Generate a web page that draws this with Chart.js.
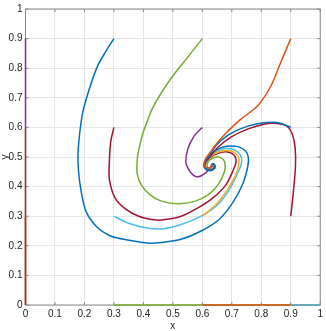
<!DOCTYPE html>
<html>
<head>
<meta charset="utf-8">
<script src="https://cdn.jsdelivr.net/npm/chart.js@4.4.0/dist/chart.umd.min.js"></script>
<style>
html, body { margin: 0; padding: 0; background: #fff; }
canvas { display: block; }
</style>
</head>
<body>
<canvas id="phase" width="326" height="331"></canvas>
<script>
// trajectories, [x, y] pairs, in plotting order
var run01 = [[0, 0]]
var run02 = [[0, 0.3], [0, 0]]
var run03 = [[0, 0.6], [0, 0]]
var run04 = [[0, 0.9], [0, 0]]
var run05 = [[0.3, 0], [1, 0]]
var run06 = [[0.3, 0.3], [0.35, 0.276], [0.407, 0.261], [0.461, 0.257], [0.528, 0.272], [0.596, 0.3],
  [0.652, 0.339], [0.691, 0.389], [0.719, 0.444], [0.731, 0.472], [0.733, 0.497], [0.722, 0.515],
  [0.7, 0.527], [0.675, 0.528], [0.65, 0.52], [0.628, 0.505], [0.613, 0.487], [0.608, 0.469],
  [0.617, 0.457], [0.632, 0.456], [0.642, 0.465], [0.64, 0.476], [0.632, 0.474]]
var run07 = [[0.3, 0.6], [0.289, 0.55], [0.284, 0.472], [0.285, 0.422], [0.304, 0.361], [0.34, 0.324],
  [0.384, 0.3], [0.429, 0.289], [0.461, 0.287], [0.528, 0.3], [0.585, 0.328], [0.635, 0.361],
  [0.68, 0.406], [0.705, 0.456], [0.714, 0.48], [0.712, 0.5], [0.7, 0.512], [0.68, 0.518],
  [0.655, 0.513], [0.632, 0.502], [0.615, 0.487], [0.609, 0.47], [0.616, 0.459], [0.629, 0.458],
  [0.639, 0.465], [0.638, 0.475], [0.632, 0.474]]
var run08 = [[0.3, 0.9], [0.272, 0.856], [0.244, 0.806], [0.216, 0.728], [0.194, 0.65], [0.183, 0.572],
  [0.178, 0.506], [0.18, 0.45], [0.189, 0.383], [0.205, 0.317], [0.239, 0.267], [0.289, 0.233],
  [0.351, 0.219], [0.418, 0.209], [0.461, 0.211], [0.528, 0.222], [0.596, 0.25], [0.657, 0.289],
  [0.702, 0.344], [0.736, 0.406], [0.754, 0.467], [0.756, 0.5], [0.745, 0.522], [0.72, 0.535],
  [0.69, 0.537], [0.66, 0.53], [0.635, 0.515], [0.615, 0.495], [0.605, 0.475], [0.61, 0.46],
  [0.624, 0.454], [0.638, 0.458], [0.644, 0.468], [0.638, 0.477], [0.632, 0.474]]
var run09 = [[0.6, 0], [1, 0]]
var run10 = [[0.6, 0.3], [0.646, 0.339], [0.685, 0.389], [0.713, 0.439], [0.724, 0.475], [0.723, 0.5],
  [0.71, 0.515], [0.69, 0.522], [0.665, 0.52], [0.64, 0.51], [0.62, 0.494], [0.61, 0.476],
  [0.615, 0.462], [0.628, 0.457], [0.64, 0.463], [0.641, 0.473], [0.632, 0.474]]
var run11 = [[0.6, 0.6], [0.573, 0.572], [0.551, 0.528], [0.544, 0.483], [0.552, 0.461], [0.569, 0.439],
  [0.586, 0.433], [0.608, 0.444], [0.625, 0.461], [0.632, 0.474]]
var run12 = [[0.6, 0.9], [0.552, 0.839], [0.507, 0.783], [0.468, 0.728], [0.429, 0.661], [0.412, 0.617],
  [0.399, 0.583], [0.388, 0.54], [0.38, 0.5], [0.379, 0.444], [0.393, 0.406], [0.423, 0.372],
  [0.461, 0.351], [0.518, 0.342], [0.574, 0.35], [0.619, 0.372], [0.653, 0.406], [0.675, 0.45],
  [0.676, 0.483], [0.662, 0.498], [0.64, 0.498], [0.622, 0.487], [0.616, 0.472], [0.622, 0.461],
  [0.634, 0.459], [0.641, 0.468], [0.632, 0.474]]
var run13 = [[0.9, 0], [1, 0]]
var run14 = [[0.9, 0.3], [0.909, 0.383], [0.916, 0.467], [0.915, 0.53], [0.906, 0.575], [0.888, 0.603],
  [0.854, 0.613], [0.809, 0.611], [0.753, 0.594], [0.697, 0.567], [0.653, 0.533], [0.625, 0.5],
  [0.61, 0.48], [0.611, 0.462], [0.624, 0.455], [0.638, 0.46], [0.642, 0.47], [0.635, 0.477],
  [0.632, 0.474]]
var run15 = [[0.9, 0.6], [0.865, 0.614], [0.832, 0.617], [0.787, 0.612], [0.731, 0.596], [0.686, 0.573],
  [0.647, 0.539], [0.625, 0.506], [0.61, 0.483], [0.61, 0.464], [0.622, 0.455], [0.637, 0.459],
  [0.643, 0.469], [0.636, 0.477], [0.632, 0.474]]
var run16 = [[0.9, 0.9], [0.865, 0.817], [0.832, 0.739], [0.787, 0.672], [0.731, 0.628], [0.7, 0.6],
  [0.675, 0.575], [0.65, 0.547], [0.63, 0.52], [0.615, 0.5], [0.607, 0.485], [0.607, 0.47],
  [0.619, 0.463], [0.634, 0.468], [0.632, 0.474]]

var tickLabels = ["0", "0.1", "0.2", "0.3", "0.4", "0.5", "0.6", "0.7", "0.8", "0.9", "1"]
var lineColors = ["#0072BD", "#D95319", "#EDB120", "#7E2F8E", "#77AC30", "#4DBEEE", "#A2142F"]

main()

function main() {
  var runs = [run01, run02, run03, run04, run05, run06, run07, run08,
    run09, run10, run11, run12, run13, run14, run15, run16]
  var fontFamily = "'Liberation Sans', Arial, sans-serif"

  var datasets = runs.map(function (run, i) {
    return {
      data: run.map(function (p) { return { x: p[0], y: p[1] } }),
      showLine: true,
      fill: false,
      borderColor: lineColors[i % lineColors.length],
      borderWidth: 1.5,
      pointRadius: 0,
      pointHoverRadius: 0,
      tension: 0.3,
      clip: false,
      // later runs go on top, like the original plot
      order: runs.length - i,
    }
  })

  // box round the axes plus the short inward ticks
  var axesBox = {
    id: "axesBox",
    beforeDatasetsDraw: function (chart) {
      var ctx = chart.ctx
      var a = chart.chartArea
      var xs = chart.scales.x
      var ys = chart.scales.y
      ctx.save()
      ctx.strokeStyle = "#8a8a8a"
      ctx.lineWidth = 1
      ctx.strokeRect(a.left, a.top, a.right - a.left, a.bottom - a.top)
      ctx.beginPath()
      for (var i = 0; i < tickLabels.length; i++) {
        var v = i / 10
        var px = xs.getPixelForValue(v)
        var py = ys.getPixelForValue(v)
        ctx.moveTo(px, a.bottom); ctx.lineTo(px, a.bottom - 3)
        ctx.moveTo(px, a.top); ctx.lineTo(px, a.top + 3)
        ctx.moveTo(a.left, py); ctx.lineTo(a.left + 3, py)
        ctx.moveTo(a.right, py); ctx.lineTo(a.right - 3, py)
      }
      ctx.stroke()
      ctx.restore()
    }
  }

  var tickFont = { family: fontFamily, size: 10 }

  new Chart(document.getElementById("phase"), {
    type: "scatter",
    data: { datasets: datasets },
    options: {
      responsive: false,
      animation: false,
      devicePixelRatio: 1,
      layout: { padding: { top: 5, right: 2.5, left: 0, bottom: 0 } },
      plugins: { legend: { display: false }, tooltip: { enabled: false } },
      events: [],
      scales: {
        x: {
          type: "linear",
          min: 0,
          max: 1,
          afterFit: function (scale) { scale.height = 26 },
          ticks: {
            stepSize: 0.1,
            padding: 3,
            maxRotation: 0,
            autoSkip: false,
            color: "#262626",
            font: tickFont,
            callback: function (v, idx) { return tickLabels[idx] },
          },
          grid: { color: "#e6e6e6", drawTicks: false },
          border: { display: false },
          title: {
            display: true,
            text: "x",
            color: "#262626",
            font: { family: fontFamily, size: 10, lineHeight: 1 },
            padding: 0,
          },
        },
        y: {
          type: "linear",
          min: 0,
          max: 1,
          afterFit: function (scale) { scale.width = 25.5 },
          ticks: {
            stepSize: 0.1,
            padding: 3,
            autoSkip: false,
            color: "#262626",
            font: tickFont,
            callback: function (v, idx) { return tickLabels[idx] },
          },
          grid: { color: "#e6e6e6", drawTicks: false },
          border: { display: false },
          title: {
            display: true,
            text: "y",
            color: "#262626",
            font: { family: fontFamily, size: 10, lineHeight: 1 },
            padding: 0,
          },
        },
      },
    },
    plugins: [axesBox],
  })
}
</script>
</body>
</html>
